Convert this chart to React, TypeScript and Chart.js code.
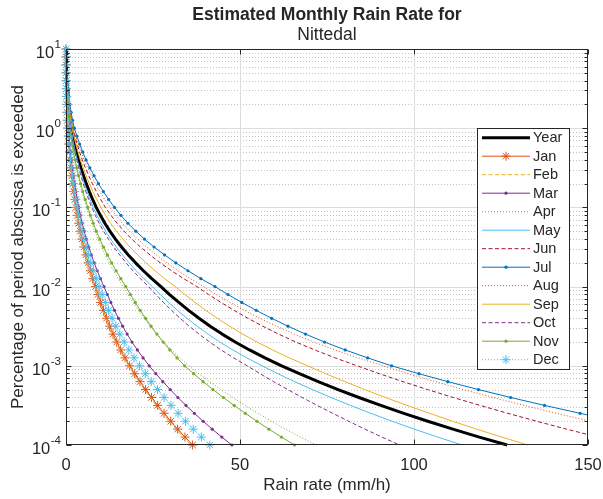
import React, { useEffect, useRef } from "react";
import { Chart, registerables } from "chart.js";

Chart.register(...registerables);

// Percentage of period levels (y values, log spaced) shared by every curve
const percentLevels = [
  10, 7.943, 6.31, 5.012, 3.981, 3.162, 2.512, 1.995, 1.585, 1.259,
  1, 0.7943, 0.631, 0.5012, 0.3981, 0.3162, 0.2512, 0.1995, 0.1585, 0.1259,
  0.1, 0.07943, 0.0631, 0.05012, 0.03981, 0.03162, 0.02512, 0.01995, 0.01585, 0.01259,
  0.01, 0.007943, 0.00631, 0.005012, 0.003981, 0.003162, 0.002512, 0.001995, 0.001585, 0.001259,
  0.001, 0.0007943, 0.000631, 0.0005012, 0.0003981, 0.0003162, 0.0002512, 0.0001995, 0.0001585, 0.0001259,
  0.0001,
];

// Rain rate (mm/h) exceeded at each level
const rainYear = [0.05,0.08,0.11,0.16,0.25,0.38,0.52,0.7,0.92,1.18,1.5,1.95,2.45,3.0,3.6,4.28,5.03,5.83,6.71,7.66,8.7,9.88,11.16,12.6,14.2,15.97,17.9,19.99,22.24,24.65,27.27,29.77,32.42,35.22,38.22,41.42,44.87,48.62,52.72,57.17,61.97,67.07,72.47,78.17,84.17,90.47,97.07,103.97,111.17,118.77,126.77];
const rainJan = [0.02,0.03,0.04,0.05,0.08,0.13,0.17,0.23,0.3,0.39,0.5,0.64,0.81,0.99,1.19,1.41,1.66,1.92,2.21,2.53,2.87,3.24,3.64,4.08,4.57,5.11,5.69,6.32,6.98,7.69,8.45,9.18,9.95,10.76,11.62,12.53,13.51,14.56,15.71,16.95,18.28,19.73,21.26,22.87,24.56,26.33,28.17,30.09,32.08,34.18,36.38];
const rainFeb = [0.02,0.03,0.04,0.05,0.08,0.12,0.17,0.23,0.3,0.38,0.49,0.63,0.8,0.98,1.17,1.39,1.64,1.89,2.18,2.49,2.83,3.19,3.59,4.02,4.5,5.03,5.6,6.23,6.88,7.57,8.32,9.04,9.8,10.6,11.45,12.34,13.31,14.34,15.47,16.7,18.01,19.43,20.94,22.53,24.19,25.94,27.75,29.64,31.6,33.67,35.83];
const rainMar = [0.02,0.03,0.05,0.07,0.11,0.16,0.22,0.29,0.39,0.5,0.63,0.82,1.03,1.26,1.51,1.8,2.11,2.45,2.82,3.22,3.65,4.13,4.64,5.22,5.85,6.55,7.3,8.12,8.98,9.91,10.91,11.87,12.88,13.94,15.07,16.28,17.57,18.97,20.5,22.15,23.92,25.82,27.83,29.94,32.15,34.47,36.89,39.4,42.02,44.78,47.67];
const rainApr = [0.03,0.05,0.07,0.11,0.17,0.26,0.35,0.48,0.63,0.8,1.02,1.33,1.67,2.04,2.45,2.91,3.42,3.96,4.56,5.21,5.92,6.64,7.41,8.27,9.2,10.22,11.31,12.47,13.7,14.99,16.36,17.77,19.26,20.82,22.47,24.23,26.11,28.15,30.37,32.76,35.32,38.21,41.26,44.49,47.88,51.43,55.16,59.04,63.1,67.38,71.88];
const rainMay = [0.05,0.07,0.1,0.14,0.23,0.34,0.47,0.63,0.83,1.06,1.35,1.76,2.21,2.7,3.24,3.85,4.53,5.25,6.04,6.89,7.83,8.9,10.07,11.38,12.84,14.45,16.22,18.13,20.19,22.41,24.82,27.09,29.5,32.04,34.77,37.67,40.81,44.21,47.93,51.97,56.33,60.89,65.72,70.8,76.14,81.74,87.6,93.71,100.08,106.79,113.84];
const rainJun = [0.07,0.1,0.14,0.21,0.33,0.49,0.68,0.91,1.2,1.53,1.95,2.54,3.19,3.9,4.68,5.56,6.54,7.58,8.72,9.96,11.31,12.92,14.69,16.68,18.91,21.4,24.13,27.11,30.34,33.82,37.63,40.99,44.54,48.29,52.28,56.54,61.11,66.07,71.49,77.35,83.66,90.07,96.82,103.89,111.27,118.97,126.97,135.27,143.85,152.86,162.27];
const rainJul = [0.08,0.13,0.18,0.26,0.4,0.61,0.83,1.12,1.47,1.89,2.4,3.12,3.92,4.8,5.76,6.85,8.05,9.33,10.74,12.26,13.92,15.78,17.79,20.05,22.55,25.31,28.32,31.56,35.05,38.77,42.81,46.56,50.51,54.66,59.09,63.79,68.83,74.29,80.24,86.67,93.57,101.41,109.72,118.51,127.77,137.51,147.74,158.45,169.65,181.48,193.96];
const rainAug = [0.07,0.12,0.16,0.23,0.36,0.55,0.75,1.02,1.33,1.71,2.18,2.83,3.55,4.35,5.22,6.21,7.29,8.45,9.73,11.11,12.62,14.33,16.18,18.27,20.59,23.16,25.96,28.99,32.25,35.74,39.54,43.23,47.14,51.28,55.72,60.47,65.6,71.18,77.29,83.93,91.1,98.39,106.1,114.21,122.72,131.63,140.95,150.65,160.75,171.38,182.55];
const rainSep = [0.06,0.09,0.13,0.18,0.29,0.44,0.6,0.81,1.06,1.36,1.73,2.24,2.82,3.45,4.14,4.92,5.78,6.7,7.72,8.81,10.0,11.36,12.83,14.49,16.33,18.37,20.59,22.99,25.58,28.35,31.36,34.15,37.09,40.19,43.49,47.01,50.79,54.89,59.36,64.2,69.41,74.63,80.11,85.84,91.81,98.02,104.47,111.13,118.02,125.22,132.73];
const rainOct = [0.04,0.07,0.09,0.14,0.21,0.32,0.44,0.6,0.78,1.0,1.28,1.66,2.08,2.55,3.06,3.64,4.28,4.96,5.7,6.51,7.4,8.42,9.53,10.79,12.18,13.73,15.43,17.27,19.26,21.4,23.72,25.81,28.01,30.32,32.79,35.41,38.23,41.28,44.6,48.19,52.05,55.78,59.66,63.69,67.87,72.2,76.65,81.22,85.91,90.79,95.84];
const rainNov = [0.04,0.06,0.08,0.12,0.18,0.27,0.37,0.5,0.66,0.85,1.08,1.4,1.76,2.16,2.59,3.08,3.62,4.2,4.83,5.52,6.26,7.02,7.83,8.73,9.71,10.78,11.92,13.13,14.41,15.75,17.18,18.52,19.91,21.34,22.86,24.44,26.11,27.91,29.84,31.9,34.08,36.67,39.39,42.24,45.22,48.31,51.53,54.85,58.3,61.9,65.67];
const rainDec = [0.02,0.03,0.04,0.06,0.09,0.14,0.19,0.26,0.34,0.44,0.56,0.72,0.91,1.11,1.33,1.58,1.86,2.16,2.48,2.83,3.22,3.64,4.08,4.59,5.14,5.75,6.41,7.12,7.87,8.68,9.54,10.39,11.29,12.23,13.24,14.31,15.46,16.71,18.07,19.55,21.13,22.77,24.49,26.3,28.2,30.17,32.23,34.36,36.57,38.9,41.33];

const seriesNames = ["Year", "Jan", "Feb", "Mar", "Apr", "May", "Jun", "Jul", "Aug", "Sep", "Oct", "Nov", "Dec"];
const seriesValues = [rainYear, rainJan, rainFeb, rainMar, rainApr, rainMay, rainJun, rainJul, rainAug, rainSep, rainOct, rainNov, rainDec];

// Axis ticks
const xTickValues = [0, 50, 100, 150];
const yDecadeExps = [-4, -3, -2, -1, 0, 1];
const minorDecades = [-4, -3, -2, -1, 0];
const minorMultipliers = [2, 3, 4, 5, 6, 7, 8, 9];

const titleLine1 = "Estimated Monthly Rain Rate for";
const titleLine2 = "Nittedal";
const xTitle = "Rain rate (mm/h)";
const yTitle = "Percentage of period abscissa is exceeded";

type Style = { color: string; width: number; dash: number[]; marker: "" | "star" | "dot" };
const DASH = [4, 2.5];
const DOT = [1, 2];
const seriesStyles: Style[] = [
  { color: "#000000", width: 3, dash: [], marker: "" },
  { color: "#D95319", width: 1, dash: [], marker: "star" },
  { color: "#EDB120", width: 1, dash: DASH, marker: "" },
  { color: "#7E2F8E", width: 1, dash: [], marker: "dot" },
  { color: "#77AC30", width: 1, dash: DOT, marker: "" },
  { color: "#4DBEEE", width: 1, dash: [], marker: "" },
  { color: "#A2142F", width: 1, dash: DASH, marker: "" },
  { color: "#0072BD", width: 1, dash: [], marker: "dot" },
  { color: "#D95319", width: 1, dash: DOT, marker: "" },
  { color: "#EDB120", width: 1, dash: [], marker: "" },
  { color: "#7E2F8E", width: 1, dash: DASH, marker: "" },
  { color: "#77AC30", width: 1, dash: [], marker: "dot" },
  { color: "#4DBEEE", width: 1, dash: DOT, marker: "star" },
];

const FONT = '"Liberation Sans", Arial, Helvetica, sans-serif';
const AX = "#262626";
const STAR_R = 4.5;
const DOT_R = 1.6;

function drawStar(ctx: CanvasRenderingContext2D, x: number, y: number, r: number) {
  const d = r * Math.SQRT1_2;
  ctx.beginPath();
  ctx.moveTo(x - r, y); ctx.lineTo(x + r, y);
  ctx.moveTo(x, y - r); ctx.lineTo(x, y + r);
  ctx.moveTo(x - d, y - d); ctx.lineTo(x + d, y + d);
  ctx.moveTo(x - d, y + d); ctx.lineTo(x + d, y - d);
  ctx.stroke();
}

const matlabPlugin = {
  id: "matlabAxes",
  beforeDatasetsDraw(chart: any) {
    const { ctx, chartArea: a, scales } = chart;
    const xs = scales.x, ys = scales.y;
    ctx.save();
    ctx.lineWidth = 1;
    ctx.strokeStyle = "#c4c4c4";
    ctx.setLineDash([1, 2]);
    for (const e of minorDecades) {
      for (const m of minorMultipliers) {
        const py = Math.round(ys.getPixelForValue(m * Math.pow(10, e))) + 0.5;
        ctx.beginPath(); ctx.moveTo(a.left, py); ctx.lineTo(a.right, py); ctx.stroke();
      }
    }
    ctx.setLineDash([]);
    ctx.strokeStyle = "#dcdcdc";
    for (const e of yDecadeExps) {
      const v = Math.pow(10, e);
      if (v <= ys.min * 1.0001 || v >= ys.max * 0.9999) continue;
      const py = Math.round(ys.getPixelForValue(v)) + 0.5;
      ctx.beginPath(); ctx.moveTo(a.left, py); ctx.lineTo(a.right, py); ctx.stroke();
    }
    for (const v of xTickValues) {
      if (v <= xs.min || v >= xs.max) continue;
      const px = Math.round(xs.getPixelForValue(v)) + 0.5;
      ctx.beginPath(); ctx.moveTo(px, a.top); ctx.lineTo(px, a.bottom); ctx.stroke();
    }
    ctx.restore();
  },
  afterDatasetsDraw(chart: any) {
    const { ctx, chartArea: a, scales } = chart;
    const xs = scales.x, ys = scales.y;
    const L = Math.round(a.left) + 0.5, R = Math.round(a.right) - 0.5;
    const T = Math.round(a.top) + 0.5, B = Math.round(a.bottom) - 0.5;
    ctx.save();
    ctx.lineWidth = 1;
    ctx.strokeStyle = AX;
    ctx.setLineDash([]);
    ctx.strokeRect(L, T, R - L, B - T);
    // ticks
    ctx.beginPath();
    for (const v of xTickValues) {
      const px = Math.round(xs.getPixelForValue(v)) + 0.5;
      ctx.moveTo(px, B); ctx.lineTo(px, B - 5);
      ctx.moveTo(px, T); ctx.lineTo(px, T + 5);
    }
    for (const e of yDecadeExps) {
      const py = Math.round(ys.getPixelForValue(Math.pow(10, e))) + 0.5;
      ctx.moveTo(L, py); ctx.lineTo(L + 5, py);
      ctx.moveTo(R, py); ctx.lineTo(R - 5, py);
    }
    for (const e of minorDecades) {
      for (const m of minorMultipliers) {
        const py = Math.round(ys.getPixelForValue(m * Math.pow(10, e))) + 0.5;
        ctx.moveTo(L, py); ctx.lineTo(L + 3, py);
        ctx.moveTo(R, py); ctx.lineTo(R - 3, py);
      }
    }
    ctx.stroke();

    // tick labels
    ctx.fillStyle = AX;
    ctx.font = `16.5px ${FONT}`;
    ctx.textAlign = "center";
    ctx.textBaseline = "alphabetic";
    for (const v of xTickValues) {
      ctx.fillText(String(v), xs.getPixelForValue(v), a.bottom + 25);
    }
    for (const e of yDecadeExps) {
      const py = ys.getPixelForValue(Math.pow(10, e));
      const ex = String(e);
      ctx.font = `11.5px ${FONT}`;
      const ew = ctx.measureText(ex).width;
      const right = a.left - 5;
      ctx.textAlign = "right";
      ctx.fillText(ex, right, py - 1);
      ctx.font = `16.5px ${FONT}`;
      ctx.fillText("10", right - ew - 0.5, py + 9);
    }

    // axis titles
    ctx.font = `17px ${FONT}`;
    ctx.textAlign = "center";
    ctx.fillText(xTitle, (a.left + a.right) / 2, 490);
    ctx.save();
    ctx.translate(23, (a.top + a.bottom) / 2);
    ctx.rotate(-Math.PI / 2);
    ctx.fillText(yTitle, 0, 0);
    ctx.restore();

    // title
    ctx.font = `bold 17.5px ${FONT}`;
    ctx.fillText(titleLine1, (a.left + a.right) / 2, 20);
    ctx.font = `17.5px ${FONT}`;
    ctx.fillText(titleLine2, (a.left + a.right) / 2, 39.5);

    // legend
    const bx1 = 477.5, bx2 = 569.5, by1 = 128.5, by2 = 369.5;
    ctx.fillStyle = "#ffffff";
    ctx.fillRect(bx1, by1, bx2 - bx1, by2 - by1);
    ctx.strokeStyle = AX;
    ctx.lineWidth = 1;
    ctx.strokeRect(bx1, by1, bx2 - bx1, by2 - by1);
    seriesNames.forEach((name, i) => {
      const st = seriesStyles[i];
      const cy = 137.7 + i * 18.5;
      ctx.save();
      ctx.strokeStyle = st.color;
      ctx.lineWidth = st.width;
      ctx.setLineDash(st.dash);
      ctx.beginPath(); ctx.moveTo(482, cy); ctx.lineTo(530, cy); ctx.stroke();
      ctx.setLineDash([]);
      if (st.marker === "star") {
        ctx.lineWidth = 1;
        drawStar(ctx, 506, cy, STAR_R);
      } else if (st.marker === "dot") {
        ctx.fillStyle = st.color;
        ctx.beginPath(); ctx.arc(506, cy, DOT_R, 0, Math.PI * 2); ctx.fill();
      }
      ctx.restore();
      ctx.fillStyle = AX;
      ctx.font = `14.5px ${FONT}`;
      ctx.textAlign = "left";
      ctx.textBaseline = "middle";
      ctx.fillText(name, 533, cy + 0.5);
    });
    ctx.restore();
  },
};

export default function App() {
  const ref = useRef<HTMLCanvasElement>(null);
  useEffect(() => {
    const canvas = ref.current;
    if (!canvas) return;
    const datasets = seriesNames.map((name, i) => {
      const st = seriesStyles[i];
      const vals = seriesValues[i];
      return {
        label: name,
        data: vals.map((r, k) => ({ x: r, y: percentLevels[k] })),
        borderColor: st.color,
        backgroundColor: st.color,
        borderWidth: st.width,
        borderDash: st.dash,
        borderJoinStyle: "round" as const,
        pointRadius: st.marker === "star" ? STAR_R : st.marker === "dot" ? DOT_R : 0,
        pointStyle: st.marker === "star" ? "star" : "circle",
        pointBorderColor: st.color,
        pointBackgroundColor: st.color,
        pointBorderWidth: st.marker === "star" ? 1 : 0,
        pointHoverRadius: 0,
        tension: 0,
        fill: false,
        order: 100 - i,
        clip: { left: 8, top: 8, right: 0, bottom: 8 },
      };
    });
    const chart = new Chart(canvas, {
      type: "line",
      data: { datasets } as any,
      options: {
        responsive: false,
        maintainAspectRatio: false,
        devicePixelRatio: 1,
        animation: false,
        events: [],
        layout: { padding: { left: 66, top: 49, right: 15, bottom: 54 } },
        scales: {
          x: { type: "linear", min: 0, max: 150, display: false },
          y: { type: "logarithmic", min: 1e-4, max: 10, display: false },
        },
        plugins: {
          legend: { display: false },
          title: { display: false },
          tooltip: { enabled: false },
        },
      } as any,
      plugins: [matlabPlugin as any],
    });
    return () => chart.destroy();
  }, []);
  return (
    <div style={{ position: "fixed", left: 0, top: 0, width: 603, height: 499, background: "#ffffff" }}>
      <canvas ref={ref} width={603} height={499} style={{ display: "block", width: 603, height: 499 }} />
    </div>
  );
}
